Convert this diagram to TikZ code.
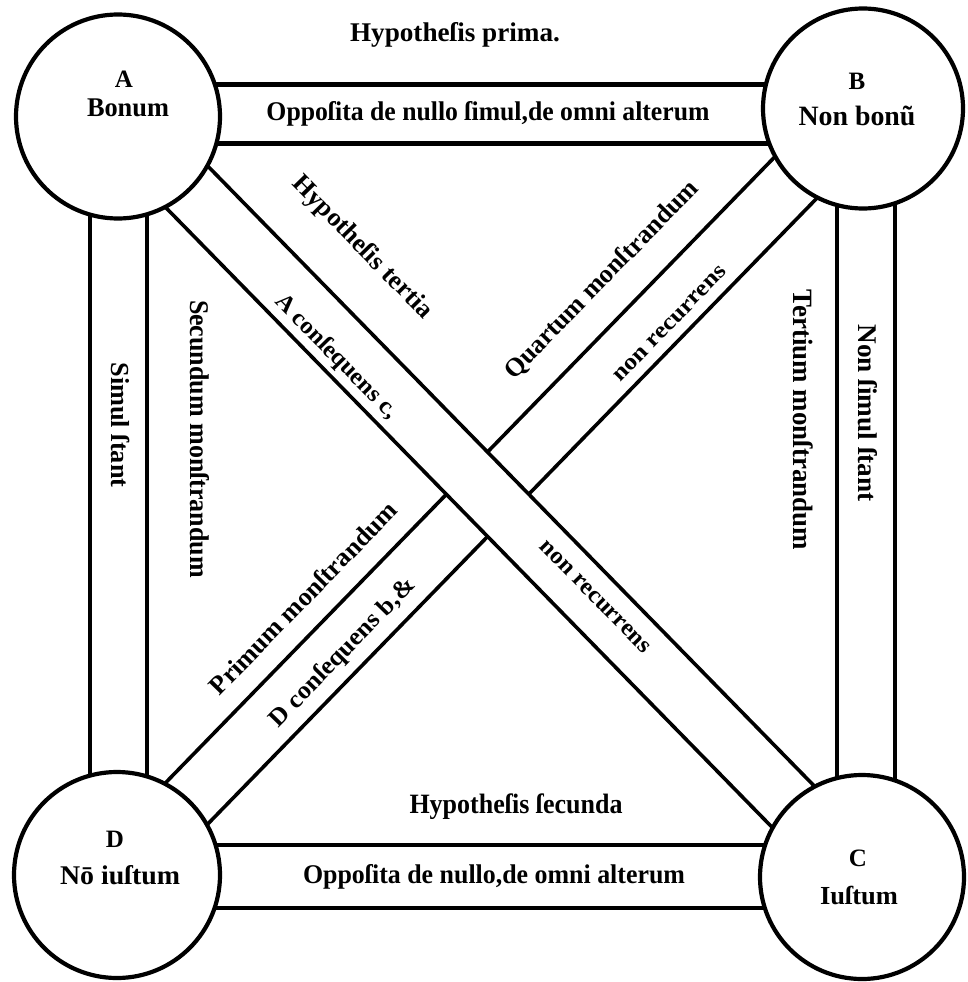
\documentclass[tikz,border=0pt]{standalone}
\usepackage{fontspec}
\setmainfont{Liberation Serif}
\usetikzlibrary{calc}
\newcommand{\fw}[3]{\resizebox{#1pt}{\height}{\fontsize{#2}{#2}\selectfont\bfseries #3}}
\begin{document}
\begin{tikzpicture}[x=1pt,y=-1pt,
  circ/.style={circle, draw, line width=4.2pt, fill=white, minimum size=204pt, inner sep=0pt},
  barline/.style={line width=3.6pt},
  hbarline/.style={line width=4.8pt},
  vbarline/.style={line width=3.8pt},
  txt/.style={inner sep=0pt},
  lett/.style={inner sep=0pt, font=\fontsize{25}{27}\selectfont\bfseries}]
\useasboundingbox[fill=white] (0,0) rectangle (967,982);
% circle centres
\coordinate (a) at (118,116.5);
\coordinate (b) at (863,108.5);
\coordinate (c) at (862,877);
\coordinate (d) at (117,875);
% bar levels
\coordinate (yab1) at (0,84.5);
\coordinate (yab2) at (0,143.5);
\coordinate (ydc1) at (0,845);
\coordinate (ydc2) at (0,908);
\coordinate (xad1) at (90,0);
\coordinate (xad2) at (147,0);
\coordinate (xbc1) at (837,0);
\coordinate (xbc2) at (895,0);
% B--D diagonal (underneath)
\fill[white] ($(b)!29.5pt!90:(d)$) -- ($(d)!29.5pt!-90:(b)$) -- ($(d)!29.5pt!90:(b)$) -- ($(b)!29.5pt!-90:(d)$) -- cycle;
\draw[barline] ($(b)!29.5pt!90:(d)$) -- ($(d)!29.5pt!-90:(b)$);
\draw[barline] ($(b)!29.5pt!-90:(d)$) -- ($(d)!29.5pt!90:(b)$);
% A--C diagonal (on top)
\fill[white] ($(a)!29.5pt!90:(c)$) -- ($(c)!29.5pt!-90:(a)$) -- ($(c)!29.5pt!90:(a)$) -- ($(a)!29.5pt!-90:(c)$) -- cycle;
\draw[barline] ($(a)!29.5pt!90:(c)$) -- ($(c)!29.5pt!-90:(a)$);
\draw[barline] ($(a)!29.5pt!-90:(c)$) -- ($(c)!29.5pt!90:(a)$);
% horizontal bars
\draw[hbarline] (a |- yab1) -- (b |- yab1);
\draw[hbarline] (a |- yab2) -- (b |- yab2);
\draw[hbarline] (d |- ydc1) -- (c |- ydc1);
\draw[hbarline] (d |- ydc2) -- (c |- ydc2);
% vertical bars
\draw[vbarline] (xad1 |- a) -- (xad1 |- d);
\draw[vbarline] (xad2 |- a) -- (xad2 |- d);
\draw[vbarline] (xbc1 |- b) -- (xbc1 |- c);
\draw[vbarline] (xbc2 |- b) -- (xbc2 |- c);
% circles
\node[circ] (A) at (a) {};
\node[circ, minimum size=200pt] (B) at (b) {};
\node[circ, minimum size=206pt] (D) at (d) {};
\node[circ] (C) at (c) {};
% circle labels
\node[lett] (Al) at (124,79) {A};
\node[txt] (Aw) at (128,108) {\fw{82}{27}{Bonum}};
\node[lett] (Bl) at (857,81) {B};
\node[txt] (Bw) at (857,116) {\fw{117}{28}{Non bonũ}};
\node[lett] (Dl) at (115,839) {D};
\node[txt] (Dw) at (120,875) {\fw{120}{27}{Nō iuſtum}};
\node[lett] (Cl) at (858,858) {C};
\node[txt] (Cw) at (859,895) {\fw{78}{26}{Iuſtum}};
% horizontal texts
\node[txt] (h1) at (455,35) {\fw{210}{27}{Hypotheſis prima.}};
\node[txt] (o1) at (488,114) {\fw{443}{27}{Oppoſita de nullo ſimul,de omni alterum}};
\node[txt] (h2) at (516,807) {\fw{213}{28}{Hypotheſis ſecunda}};
\node[txt] (o2) at (494,877) {\fw{382}{27}{Oppoſita de nullo,de omni alterum}};
% vertical texts
\node[txt, rotate=-90] (v1) at (120,425) {\fw{125}{26}{Simul ſtant}};
\node[txt, rotate=-90] (v2) at (200,439) {\fw{278}{27}{Secundum monſtrandum}};
\node[txt, rotate=-90] (v3) at (803,420) {\fw{260}{28}{Tertium monſtrandum}};
\node[txt, rotate=-90] (v4) at (868,413) {\fw{177}{27}{Non ſimul ſtant}};
% diagonal texts along A--C
\node[txt, rotate=-45.6] (g1) at (362,248) {\fw{189}{26}{Hypotheſis tertia}};
\node[txt, rotate=-45.6] (g2) at (336,357) {\fw{165}{24}{A conſequens c,}};
\node[txt, rotate=-45.6] (g3) at (595,597) {\fw{149}{24}{non recurrens}};
% diagonal texts along B--D
\node[txt, rotate=45.8] (k1) at (602,280) {\fw{266}{26}{Quartum monſtrandum}};
\node[txt, rotate=45.8] (k2) at (670,324) {\fw{154}{23}{non recurrens}};
\node[txt, rotate=45.8] (k3) at (303,598) {\fw{257}{26}{Primum monſtrandum}};
\node[txt, rotate=45.8] (k4) at (343,653) {\fw{198}{25}{D conſequens b,\&}};
\end{tikzpicture}
\end{document}
